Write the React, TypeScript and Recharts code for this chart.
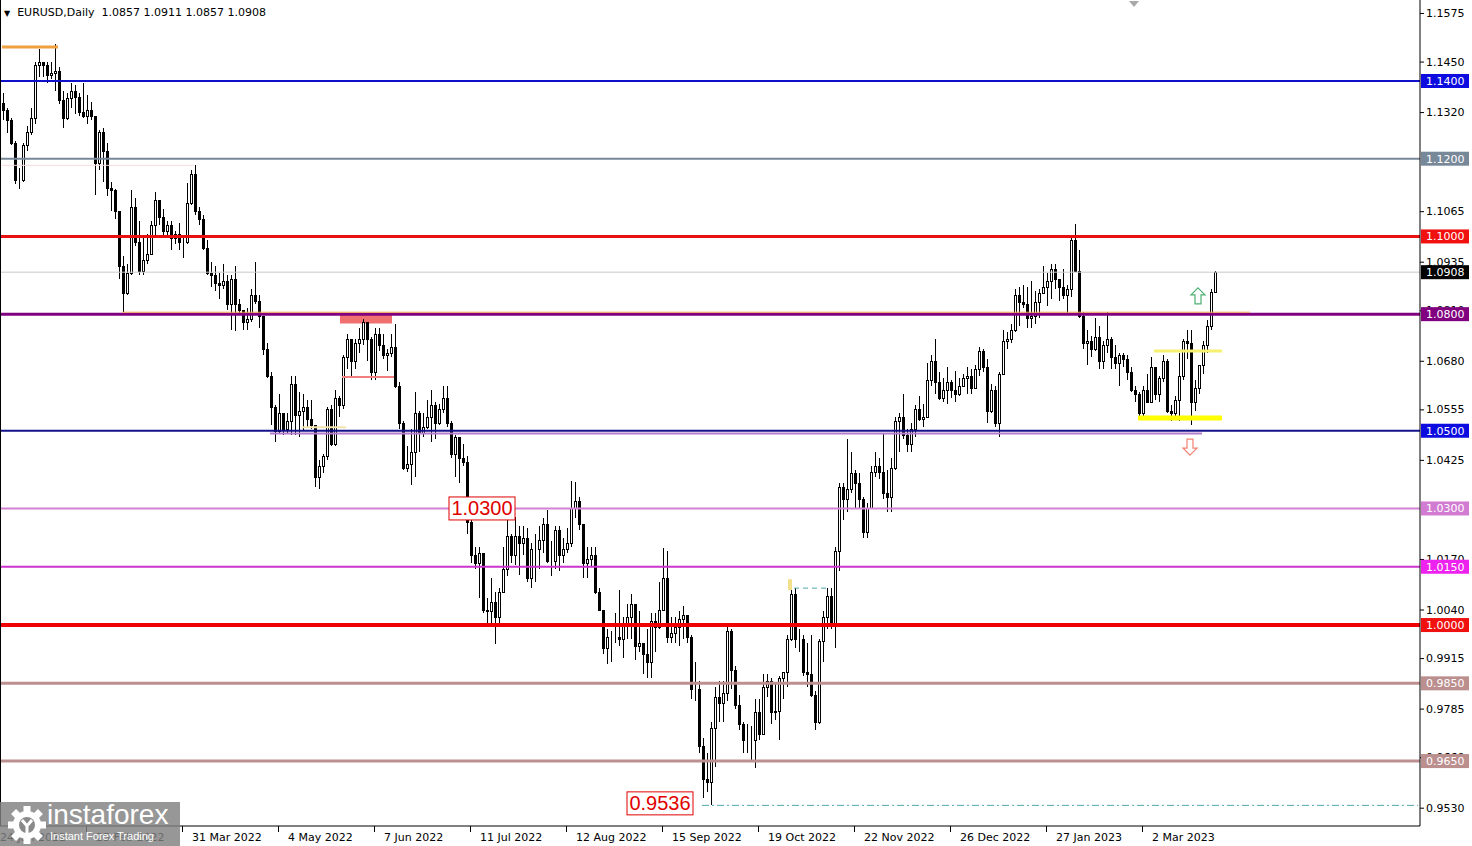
import React from 'react';
import { ComposedChart, Bar, XAxis, YAxis, ReferenceLine, ReferenceDot, ReferenceArea } from 'recharts';

const firstOpen = 1.1343;
const close = [
  1.1325, 1.1300, 1.1240, 1.1145, 1.1145,
  1.1235, 1.1270, 1.1305, 1.1440, 1.1450,
  1.1440, 1.1415, 1.1420, 1.1425, 1.1350,
  1.1305, 1.1357, 1.1375, 1.1360, 1.1320,
  1.1310, 1.1325, 1.1310, 1.1190, 1.1270,
  1.1220, 1.1125, 1.1120, 1.1065, 1.0925,
  1.0855, 1.0905, 1.1075, 1.0985, 1.0912,
  1.0940, 1.0955, 1.1030, 1.1095, 1.1050,
  1.1015, 1.1030, 1.0995, 1.1005, 1.0985,
  1.0985, 1.1085, 1.1160, 1.1065, 1.1045,
  1.0970, 1.0905, 1.0900, 1.0880, 1.0875,
  1.0885, 1.0825, 1.0890, 1.0825, 1.0810,
  1.0780, 1.0787, 1.0850, 1.0835, 1.0795,
  1.0710, 1.0640, 1.0560, 1.0500, 1.0545,
  1.0505, 1.0525, 1.0620, 1.0540, 1.0550,
  1.0560, 1.0530, 1.0515, 1.0380, 1.0410,
  1.0435, 1.0555, 1.0465, 1.0585, 1.0565,
  1.0690, 1.0735, 1.0680, 1.0725, 1.0735,
  1.0780, 1.0735, 1.0650, 1.0750, 1.0720,
  1.0695, 1.0700, 1.0715, 1.0615, 1.0520,
  1.0405, 1.0415, 1.0445, 1.0545, 1.0495,
  1.0510, 1.0535, 1.0565, 1.0520, 1.0555,
  1.0585, 1.0520, 1.0440, 1.0485, 1.0430,
  1.0420, 1.0265, 1.0180, 1.0160, 1.0185,
  1.0040, 1.0035, 1.0060, 1.0020, 1.0085,
  1.0145, 1.0230, 1.0180, 1.0230, 1.0210,
  1.0225, 1.0120, 1.0195, 1.0195, 1.0220,
  1.0260, 1.0165, 1.0165, 1.0245, 1.0180,
  1.0195, 1.0210, 1.0300, 1.0320, 1.0260,
  1.0160, 1.0170, 1.0180, 1.0085, 1.0040,
  0.9940, 0.9970, 0.9970, 0.9970, 0.9965,
  1.0000, 1.0020, 1.0055, 0.9945, 0.9955,
  0.9925, 0.9905, 1.0010, 0.9995, 1.0040,
  1.0120, 0.9970, 0.9980, 0.9995, 1.0015,
  1.0025, 0.9970, 0.9835, 0.9835, 0.9690,
  0.9605, 0.9595, 0.9735, 0.9815, 0.9800,
  0.9825, 0.9985, 0.9885, 0.9795, 0.9745,
  0.9705, 0.9705, 0.9705, 0.9775, 0.9720,
  0.9840, 0.9855, 0.9775, 0.9780, 0.9865,
  0.9880, 0.9965, 1.0080, 0.9965, 0.9965,
  0.9880, 0.9875, 0.9820, 0.9750, 0.9960,
  1.0020, 1.0075, 1.0005, 1.0190, 1.0355,
  1.0325, 1.0350, 1.0390, 1.0365, 1.0325,
  1.0240, 1.0300, 1.0395, 1.0410, 1.0395,
  1.0340, 1.0330, 1.0405, 1.0525, 1.0535,
  1.0490, 1.0465, 1.0505, 1.0555, 1.0530,
  1.0535, 1.0630, 1.0680, 1.0625, 1.0585,
  1.0605, 1.0625, 1.0605, 1.0595, 1.0615,
  1.0635, 1.0640, 1.0610, 1.0660, 1.0705,
  1.0665, 1.0550, 1.0605, 1.0520, 1.0645,
  1.0730, 1.0735, 1.0760, 1.0850, 1.0830,
  1.0825, 1.0790, 1.0795, 1.0830, 1.0855,
  1.0870, 1.0885, 1.0915, 1.0890, 1.0870,
  1.0850, 1.0865, 1.0990, 1.0910, 1.0795,
  1.0725, 1.0730, 1.0710, 1.0740, 1.0680,
  1.0720, 1.0735, 1.0690, 1.0675, 1.0695,
  1.0685, 1.0650, 1.0605, 1.0595, 1.0545,
  1.0605, 1.0575, 1.0665, 1.0595, 1.0635,
  1.0680, 1.0550, 1.0545, 1.0580, 1.0640,
  1.0730, 1.0725, 1.0575, 1.0610, 1.0670,
  1.0720, 1.0770, 1.0857, 1.0908,
];
const high = [
  1.1370, 1.1330, 1.1305, 1.1245, 1.1175,
  1.1240, 1.1285, 1.1330, 1.1450, 1.1483,
  1.1450, 1.1450, 1.1448, 1.1495, 1.1435,
  1.1375, 1.1370, 1.1395, 1.1390, 1.1370,
  1.1395, 1.1365, 1.1345, 1.1310, 1.1275,
  1.1280, 1.1240, 1.1140, 1.1122, 1.1060,
  1.0950, 1.0930, 1.1120, 1.1100, 1.1040,
  1.0995, 1.1005, 1.1040, 1.1115, 1.1095,
  1.1070, 1.1040, 1.1040, 1.1015, 1.1035,
  1.0995, 1.1138, 1.1170, 1.1185, 1.1075,
  1.1055, 1.0990, 1.0935, 1.0925, 1.0905,
  1.0930, 1.0900, 1.0900, 1.0925, 1.0840,
  1.0810, 1.0815, 1.0865, 1.0935, 1.0850,
  1.0785, 1.0725, 1.0650, 1.0565, 1.0595,
  1.0545, 1.0545, 1.0640, 1.0640, 1.0600,
  1.0595, 1.0580, 1.0580, 1.0515, 1.0425,
  1.0440, 1.0560, 1.0565, 1.0605, 1.0590,
  1.0695, 1.0750, 1.0735, 1.0735, 1.0765,
  1.0787, 1.0765, 1.0740, 1.0765, 1.0765,
  1.0750, 1.0710, 1.0750, 1.0775, 1.0625,
  1.0525, 1.0460, 1.0505, 1.0600, 1.0550,
  1.0545, 1.0580, 1.0605, 1.0575, 1.0570,
  1.0615, 1.0615, 1.0525, 1.0490, 1.0485,
  1.0465, 1.0435, 1.0275, 1.0200, 1.0200,
  1.0170, 1.0070, 1.0120, 1.0085, 1.0095,
  1.0200, 1.0270, 1.0235, 1.0278, 1.0255,
  1.0255, 1.0250, 1.0210, 1.0235, 1.0255,
  1.0275, 1.0295, 1.0215, 1.0255, 1.0255,
  1.0225, 1.0250, 1.0370, 1.0368, 1.0330,
  1.0240, 1.0200, 1.0200, 1.0200, 1.0095,
  1.0035, 0.9990, 0.9985, 1.0030, 1.0090,
  1.0020, 1.0055, 1.0080, 1.0045, 1.0035,
  0.9950, 0.9990, 1.0030, 1.0030, 1.0110,
  1.0198, 1.0190, 1.0020, 1.0020, 1.0035,
  1.0050, 1.0020, 0.9975, 0.9905, 0.9855,
  0.9710, 0.9670, 0.9750, 0.9840, 0.9855,
  0.9855, 0.9999, 0.9990, 0.9895, 0.9820,
  0.9750, 0.9745, 0.9740, 0.9810, 0.9810,
  0.9875, 0.9875, 0.9865, 0.9850, 0.9870,
  0.9880, 0.9975, 1.0090, 1.0095, 0.9990,
  0.9975, 0.9955, 0.9975, 0.9830, 0.9965,
  1.0035, 1.0095, 1.0095, 1.0200, 1.0365,
  1.0365, 1.0480, 1.0445, 1.0400, 1.0390,
  1.0330, 1.0315, 1.0410, 1.0445, 1.0430,
  1.0495, 1.0400, 1.0430, 1.0535, 1.0545,
  1.0595, 1.0505, 1.0520, 1.0565, 1.0590,
  1.0570, 1.0675, 1.0695, 1.0735, 1.0650,
  1.0635, 1.0665, 1.0630, 1.0655, 1.0635,
  1.0645, 1.0665, 1.0660, 1.0670, 1.0715,
  1.0710, 1.0685, 1.0620, 1.0615, 1.0650,
  1.0760, 1.0755, 1.0775, 1.0865, 1.0870,
  1.0875, 1.0870, 1.0885, 1.0860, 1.0865,
  1.0925, 1.0905, 1.0930, 1.0930, 1.0890,
  1.0915, 1.0875, 1.1000, 1.1033, 1.0965,
  1.0805, 1.0760, 1.0745, 1.0790, 1.0770,
  1.0730, 1.0805, 1.0740, 1.0720, 1.0700,
  1.0700, 1.0695, 1.0665, 1.0615, 1.0600,
  1.0615, 1.0645, 1.0690, 1.0665, 1.0640,
  1.0695, 1.0685, 1.0565, 1.0590, 1.0700,
  1.0735, 1.0760, 1.0760, 1.0630, 1.0670,
  1.0730, 1.0785, 1.0865, 1.0911,
];
const low = [
  1.1300, 1.1265, 1.1235, 1.1135, 1.1121,
  1.1140, 1.1220, 1.1260, 1.1290, 1.1410,
  1.1410, 1.1395, 1.1405, 1.1375, 1.1340,
  1.1280, 1.1300, 1.1330, 1.1315, 1.1310,
  1.1305, 1.1290, 1.1300, 1.1106, 1.1170,
  1.1140, 1.1105, 1.1065, 1.1045, 1.0890,
  1.0806, 1.0850, 1.0900, 1.0975, 1.0900,
  1.0900, 1.0930, 1.0955, 1.1000, 1.1030,
  1.1000, 1.1000, 1.0965, 1.0980, 1.0965,
  1.0945, 1.0980, 1.1080, 1.1055, 1.1030,
  1.0965, 1.0900, 1.0870, 1.0860, 1.0840,
  1.0865, 1.0810, 1.0760, 1.0757, 1.0800,
  1.0760, 1.0760, 1.0780, 1.0825, 1.0765,
  1.0695, 1.0635, 1.0515, 1.0470, 1.0495,
  1.0490, 1.0495, 1.0490, 1.0490, 1.0485,
  1.0500, 1.0510, 1.0505, 1.0355, 1.0350,
  1.0390, 1.0425, 1.0460, 1.0460, 1.0535,
  1.0555, 1.0660, 1.0640, 1.0660, 1.0700,
  1.0720, 1.0680, 1.0630, 1.0630, 1.0705,
  1.0685, 1.0655, 1.0690, 1.0610, 1.0505,
  1.0400, 1.0395, 1.0360, 1.0380, 1.0445,
  1.0485, 1.0505, 1.0470, 1.0480, 1.0515,
  1.0545, 1.0510, 1.0430, 1.0380, 1.0365,
  1.0410, 1.0235, 1.0160, 1.0145, 1.0070,
  1.0030, 0.9998, 0.9998, 0.9952, 1.0005,
  1.0085, 1.0125, 1.0160, 1.0155, 1.0130,
  1.0180, 1.0110, 1.0095, 1.0110, 1.0145,
  1.0185, 1.0160, 1.0125, 1.0145, 1.0140,
  1.0160, 1.0185, 1.0200, 1.0275, 1.0245,
  1.0120, 1.0120, 1.0150, 1.0080, 1.0035,
  0.9925, 0.9900, 0.9905, 0.9955, 0.9945,
  0.9915, 0.9965, 0.9965, 0.9910, 0.9930,
  0.9875, 0.9865, 0.9865, 0.9930, 0.9990,
  1.0035, 0.9955, 0.9955, 0.9955, 0.9945,
  0.9965, 0.9955, 0.9810, 0.9805, 0.9670,
  0.9555, 0.9570, 0.9536, 0.9635, 0.9750,
  0.9750, 0.9805, 0.9835, 0.9785, 0.9730,
  0.9670, 0.9670, 0.9650, 0.9632, 0.9705,
  0.9725, 0.9815, 0.9745, 0.9755, 0.9705,
  0.9810, 0.9840, 0.9960, 0.9940, 0.9930,
  0.9870, 0.9840, 0.9815, 0.9730, 0.9745,
  0.9905, 0.9990, 0.9990, 0.9940, 1.0140,
  1.0270, 1.0290, 1.0340, 1.0300, 1.0300,
  1.0225, 1.0225, 1.0300, 1.0380, 1.0375,
  1.0325, 1.0290, 1.0290, 1.0400, 1.0445,
  1.0480, 1.0445, 1.0445, 1.0485, 1.0525,
  1.0510, 1.0535, 1.0615, 1.0595, 1.0580,
  1.0575, 1.0570, 1.0585, 1.0575, 1.0590,
  1.0615, 1.0595, 1.0595, 1.0610, 1.0640,
  1.0650, 1.0520, 1.0545, 1.0510, 1.0485,
  1.0645, 1.0710, 1.0725, 1.0755, 1.0770,
  1.0815, 1.0765, 1.0765, 1.0775, 1.0790,
  1.0855, 1.0820, 1.0840, 1.0865, 1.0835,
  1.0840, 1.0800, 1.0845, 1.0910, 1.0790,
  1.0710, 1.0670, 1.0690, 1.0705, 1.0660,
  1.0660, 1.0700, 1.0660, 1.0660, 1.0615,
  1.0665, 1.0630, 1.0600, 1.0575, 1.0535,
  1.0533, 1.0575, 1.0575, 1.0580, 1.0575,
  1.0625, 1.0545, 1.0524, 1.0530, 1.0525,
  1.0630, 1.0685, 1.0516, 1.0550, 1.0595,
  1.0645, 1.0700, 1.0760, 1.0857,
];

const TOTAL_SLOTS = 355;
const dateTickIdx = [0, 24, 48, 72, 96, 120, 144, 168, 192, 216, 240, 264, 288];
const dateTickLabels = ['24 Jan 2022', '25 Feb 2022', '31 Mar 2022', '4 May 2022', '7 Jun 2022', '11 Jul 2022', '12 Aug 2022', '15 Sep 2022', '19 Oct 2022', '22 Nov 2022', '26 Dec 2022', '27 Jan 2023', '2 Mar 2023'];
const priceTicks = [1.1575, 1.145, 1.132, 1.1065, 1.0935, 1.081, 1.068, 1.0555, 1.0425, 1.017, 1.004, 0.9915, 0.9785, 0.966, 0.953];
const boxLevels = [1.14, 1.12, 1.1, 1.0908, 1.08, 1.05, 1.03, 1.015, 1.0, 0.985, 0.965];
const boxColors = ['#0c0ce0', '#778899', '#f01010', '#000000', '#800080', '#0c0ce0', '#d27bd2', '#ee22ee', '#f01010', '#bc8f8f', '#bc8f8f'];
const levelLines = [
  { y: 1.14, color: '#1010c8', w: 2 },
  { y: 1.12, color: '#778899', w: 2 },
  { y: 1.1, color: '#e81010', w: 3 },
  { y: 1.0908, color: '#c8c8c8', w: 1 },
  { y: 1.05, color: '#12128a', w: 2 },
  { y: 1.03, color: '#d282d2', w: 2 },
  { y: 1.015, color: '#cc33cc', w: 2 },
  { y: 1.0, color: '#f00000', w: 4 },
  { y: 0.985, color: '#bc9090', w: 3 },
  { y: 0.965, color: '#bc9090', w: 3 },
];
const segments = [
  { y: 1.14875, x1: 0, x2: 14, color: '#f0a040', w: 3, dash: undefined },
  { y: 1.1183, x1: 0, x2: 48, color: '#f6dcdc', w: 1, dash: undefined },
  { y: 1.0805, x1: 30, x2: 312, color: '#f2a646', w: 1, dash: undefined },
  { y: 1.0493, x1: 67, x2: 300, color: '#b47ccc', w: 2, dash: undefined },
  { y: 1.0509, x1: 75, x2: 86, color: '#f2e4b0', w: 2, dash: undefined },
  { y: 1.0638, x1: 85, x2: 98, color: '#f08080', w: 2, dash: undefined },
  { y: 1.0705, x1: 288, x2: 305, color: '#f6f070', w: 3, dash: undefined },
  { y: 1.0533, x1: 284, x2: 305, color: '#ffff00', w: 5, dash: undefined },
  { y: 0.9536, x1: 175, x2: 354, color: '#4fa8a8', w: 1, dash: '7 3 2 3' },
  { y: 1.0095, x1: 198, x2: 206, color: '#4fa8a8', w: 1, dash: '5 4' },
];
const priceLabels = [
  { x: 120, y: 1.03, dx: 0, dy: 0 },
  { x: 164, y: 0.9536, dx: 2, dy: -2 },
];

const rows = Array.from({ length: TOTAL_SLOTS }, (_, i) => {
  if (i >= close.length) return { i };
  const o = i === 0 ? firstOpen : close[i - 1];
  const c = close[i];
  const h = Math.max(high[i], o, c);
  const l = Math.min(low[i], o, c);
  return { i, o, c, h, l, range: [l, h] };
});

const FONT = '"DejaVu Sans", Verdana, sans-serif';

const Candle = (props: any) => {
  const { x, y, width, height, payload } = props;
  if (!payload || payload.h == null) return null;
  const top = Math.min(y, y + height);
  const bot = Math.max(y, y + height);
  const span = payload.h - payload.l;
  const py = (p: number) => (span > 0 ? top + ((payload.h - p) / span) * (bot - top) : top);
  const cx = Math.round(x + width / 2);
  const yo = py(payload.o);
  const yc = py(payload.c);
  const bull = payload.c >= payload.o;
  const bt = Math.round(Math.min(yo, yc));
  const bb = Math.round(Math.max(yo, yc));
  return (
    <g>
      <line x1={cx + 0.5} x2={cx + 0.5} y1={Math.round(top)} y2={Math.round(bot)} stroke="#000" strokeWidth={1} />
      <rect x={cx - 0.5} y={bt + 0.5} width={2} height={Math.max(bb - bt, 0)} fill={bull ? '#fff' : '#000'} stroke="#000" strokeWidth={1} />
    </g>
  );
};

const PriceTick = (props: any) => {
  const { x, y, payload } = props;
  const v = payload.value;
  const bi = boxLevels.indexOf(v);
  if (bi >= 0) {
    return (
      <g>
        <rect x={x + 1} y={y - 7} width={48} height={14} fill={boxColors[bi]} />
        <text x={x + 6} y={y + 4} fill="#fff" fontSize={11} fontFamily={FONT}>{v.toFixed(4)}</text>
      </g>
    );
  }
  return (
    <g>
      <line x1={x} x2={x + 4} y1={y + 0.5} y2={y + 0.5} stroke="#000" />
      <text x={x + 6} y={y + 4} fill="#000" fontSize={11} fontFamily={FONT}>{v.toFixed(4)}</text>
    </g>
  );
};

const DateTick = (props: any) => {
  const { x, y, payload } = props;
  const k = dateTickIdx.indexOf(payload.value);
  const label = k >= 0 ? dateTickLabels[k] : '';
  return (
    <g>
      <line x1={x - 11.5} x2={x - 11.5} y1={y} y2={y + 6} stroke="#000" />
      <text x={x - 2} y={y + 15} fill="#000" fontSize={11} fontFamily={FONT}>{label}</text>
    </g>
  );
};

const PriceLabelShape = (dx: number, dy: number, value: number) => (props: any) => {
  const cx = props.cx + dx;
  const cy = props.cy + dy;
  return (
    <g>
      <rect x={cx - 33} y={cy - 11.5} width={66} height={23} fill="#fff" stroke="#e00000" strokeWidth={1} />
      <text x={cx} y={cy + 7} textAnchor="middle" fill="#e00000" fontSize={20} fontFamily='"Liberation Sans", Arial, sans-serif'>{value.toFixed(4)}</text>
    </g>
  );
};

const ArrowShape = (up: boolean, color: string) => (props: any) => {
  const { cx, cy } = props;
  const s = up ? 1 : -1;
  const pts = [
    [0, -8], [7, -1], [3, -1], [3, 8], [-3, 8], [-3, -1], [-7, -1],
  ].map(([a, b]) => `${cx + a},${cy + s * b}`).join(' ');
  return <polygon points={pts} fill="#fff" stroke={color} strokeWidth={1.2} />;
};

const TriShape = (props: any) => {
  const { cx } = props;
  return <polygon points={`${cx - 5},1 ${cx + 5},1 ${cx},7`} fill="#a8a8a8" />;
};

const Gear = () => {
  const teeth = Array.from({ length: 8 }, (_, k) => k * 45);
  return (
    <svg width={40} height={40} viewBox="-20 -20 40 40" style={{ position: 'absolute', left: 7, top: 3 }}>
      {teeth.map((a) => (
        <rect key={a} x={-3.5} y={-19} width={7} height={8} fill="#fff" transform={`rotate(${a})`} />
      ))}
      <circle r={14} fill="#fff" />
      <circle r={8} fill="#8a8a8a" />
      <path d="M-5,-5 L0,1 L5,-5 M0,1 L0,12" stroke="#fff" strokeWidth={3} fill="none" />
    </svg>
  );
};

export default function App() {
  return (
    <div style={{ position: 'fixed', left: 0, top: 0, width: 1472, height: 846, background: '#fff', overflow: 'hidden' }}>
      <ComposedChart width={1472} height={846} data={rows} margin={{ top: 0, right: 0, left: 0, bottom: 0 }} barCategoryGap={0}>
        <XAxis
          dataKey="i"
          type="category"
          ticks={dateTickIdx}
          interval={0}
          height={20}
          tickSize={0}
          tickMargin={0}
          tickLine={false}
          axisLine={{ stroke: '#000' }}
          tick={<DateTick />}
        />
        <YAxis
          orientation="right"
          type="number"
          domain={[0.94829, 1.16084]}
          allowDataOverflow
          ticks={[...priceTicks, ...boxLevels]}
          interval={0}
          width={52}
          tickSize={0}
          tickMargin={0}
          tickLine={false}
          axisLine={{ stroke: '#000' }}
          tick={<PriceTick />}
        />
        {levelLines.map((l) => (
          <ReferenceLine key={'l' + l.y} y={l.y} stroke={l.color} strokeWidth={l.w} />
        ))}
        <ReferenceLine y={1.08} stroke="#800080" strokeWidth={3} />
        {segments.map((s, k) => (
          <ReferenceLine
            key={'s' + k}
            segment={[{ x: s.x1, y: s.y }, { x: s.x2, y: s.y }]}
            stroke={s.color}
            strokeWidth={s.w}
            strokeDasharray={s.dash}
          />
        ))}
        <ReferenceArea x1={85} x2={97} y1={1.0776} y2={1.0798} fill="#f07070" fillOpacity={1} stroke="none" />
        <ReferenceArea x1={197} x2={197} y1={1.0090} y2={1.0118} fill="#f2e08a" fillOpacity={1} stroke="none" />
        <Bar dataKey="range" shape={<Candle />} isAnimationActive={false} barSize={3} />
        {priceLabels.map((p, k) => (
          <ReferenceDot key={'p' + k} x={p.x} y={p.y} r={1} shape={PriceLabelShape(p.dx, p.dy, p.y)} />
        ))}
        <ReferenceDot x={299} y={1.0847} r={1} shape={ArrowShape(true, '#4cb070')} />
        <ReferenceDot x={297} y={1.0458} r={1} shape={ArrowShape(false, '#f08070')} />
        <ReferenceDot x={283} y={1.16} r={1} shape={TriShape} />
      </ComposedChart>
      <div style={{ position: 'absolute', left: 0, top: 0, width: 1, height: 826, background: '#000' }} />
      <div style={{ position: 'absolute', left: 4, top: 6, fontFamily: FONT, fontSize: 11, color: '#000', whiteSpace: 'pre', lineHeight: '14px' }}>
        <span style={{ fontSize: 8, verticalAlign: 'top', position: 'relative', top: 1 }}>▼</span>  EURUSD,Daily  1.0857 1.0911 1.0857 1.0908
      </div>
      <div style={{ position: 'absolute', left: 0, top: 802, width: 180, height: 44, background: 'rgba(128,128,128,0.82)' }}>
        <Gear />
        <div style={{ position: 'absolute', left: 47, top: -4, color: '#fff', fontFamily: '"Liberation Sans", Arial, sans-serif', fontSize: 28, lineHeight: '34px' }}>instaforex</div>
        <div style={{ position: 'absolute', left: 50, top: 27, color: '#fff', fontFamily: '"Liberation Sans", Arial, sans-serif', fontSize: 11, lineHeight: '14px' }}>Instant Forex Trading</div>
      </div>
    </div>
  );
}
